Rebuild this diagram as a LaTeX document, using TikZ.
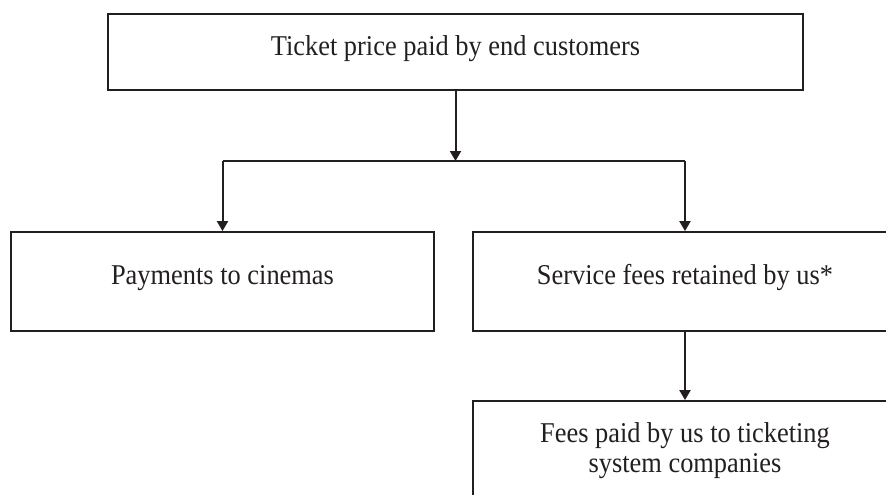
\documentclass[tikz,border=0pt]{standalone}
\usepackage{fontspec}
\setmainfont{Liberation Serif}[FakeStretch=0.92]
\usetikzlibrary{arrows.meta}
\definecolor{ink}{HTML}{231F20}
\begin{document}
\begin{tikzpicture}[x=1pt,y=1pt,
  box/.style={draw=ink, line width=1.8pt, text=ink, inner sep=0pt,
    align=center, font=\fontsize{28.7}{30}\selectfont},
  oneline/.style={text height=0.68em, text depth=0.05em},
  headbox/.style={box, oneline, line width=2.8pt},
  flow/.style={draw=ink, line width=2pt,
    -{Triangle[width=11pt,length=10pt]}},
  rail/.style={draw=ink, line width=1.5pt}]
  \useasboundingbox (0,0) rectangle (886,-495);
  \clip (0,0) rectangle (886,-495);

  % boxes
  \node[headbox, minimum width=695, minimum height=76] (top) at (455.5,-52)
    {Ticket price paid by end customers};
  \node[box, oneline, minimum width=423, minimum height=99] (cinemas) at (222.5,-281.5)
    {Payments to cinemas};
  \node[box, oneline, minimum width=424, minimum height=99] (fees) at (685,-281.5)
    {Service fees retained by us*};
  \node[box, minimum width=424, minimum height=100] (ticketing) at (685,-451)
    {Fees paid by us to ticketing\\system companies};

  % split point and branches
  \coordinate (split) at (top.south |- 0,-161);
  \coordinate (lsplit) at (cinemas.north |- split);
  \coordinate (rsplit) at (fees.north |- split);

  \draw[flow] (top.south) -- (split);
  \draw[rail] (lsplit) -- (rsplit);
  \draw[flow] (lsplit) -- (cinemas.north);
  \draw[flow] (rsplit) -- (fees.north);
  \draw[flow] (fees.south) -- (ticketing.north);
\end{tikzpicture}
\end{document}
